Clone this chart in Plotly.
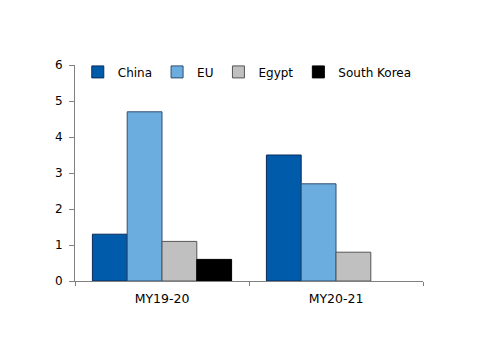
import plotly.graph_objects as go

categories = ["MY19-20", "MY20-21"]
series_names = ["China", "EU", "Egypt", "South Korea"]
china = [1.3, 3.5]
eu = [4.7, 2.7]
egypt = [1.1, 0.8]
south_korea = [0.6, None]
y_ticks = [0, 1, 2, 3, 4, 5, 6]

colors = ["#005BAA", "#6CADDF", "#C0C0C0", "#000000"]
line_colors = ["#0B2A5A", "#2F4F6F", "#555555", "#000000"]
values = [china, eu, egypt, south_korea]

fig = go.Figure()
for name, vals, c, lc in zip(series_names, values, colors, line_colors):
    fig.add_trace(go.Bar(x=categories, y=vals, name=name,
                         marker=dict(color=c, line=dict(color=lc, width=1))))

font = "DejaVu Sans"
fig.update_layout(
    width=500, height=353,
    margin=dict(l=75, r=77, t=65, b=72),
    paper_bgcolor="white", plot_bgcolor="white",
    barmode="group", bargap=0.2, bargroupgap=0,
    font=dict(family=font, size=12, color="#000000"),
    legend=dict(orientation="h", x=0.008, xanchor="left", y=0.968, yanchor="middle",
                font=dict(family=font, size=12), itemwidth=30,
                bgcolor="rgba(0,0,0,0)"),
    showlegend=True,
)
fig.update_xaxes(showline=True, linecolor="#808080", linewidth=1,
                 ticks="outside", tickson="boundaries", ticklen=4, tickcolor="#808080",
                 range=[-0.5, 1.5], showgrid=False, tickfont=dict(size=12.5),
                 ticklabelstandoff=6)
fig.update_yaxes(showline=True, linecolor="#808080", linewidth=1,
                 ticks="outside", ticklen=5, tickcolor="#808080",
                 range=[0, 6], tickvals=y_ticks, showgrid=False, zeroline=False,
                 tickfont=dict(size=12), ticklabelstandoff=4)
fig.write_html("out.html")
